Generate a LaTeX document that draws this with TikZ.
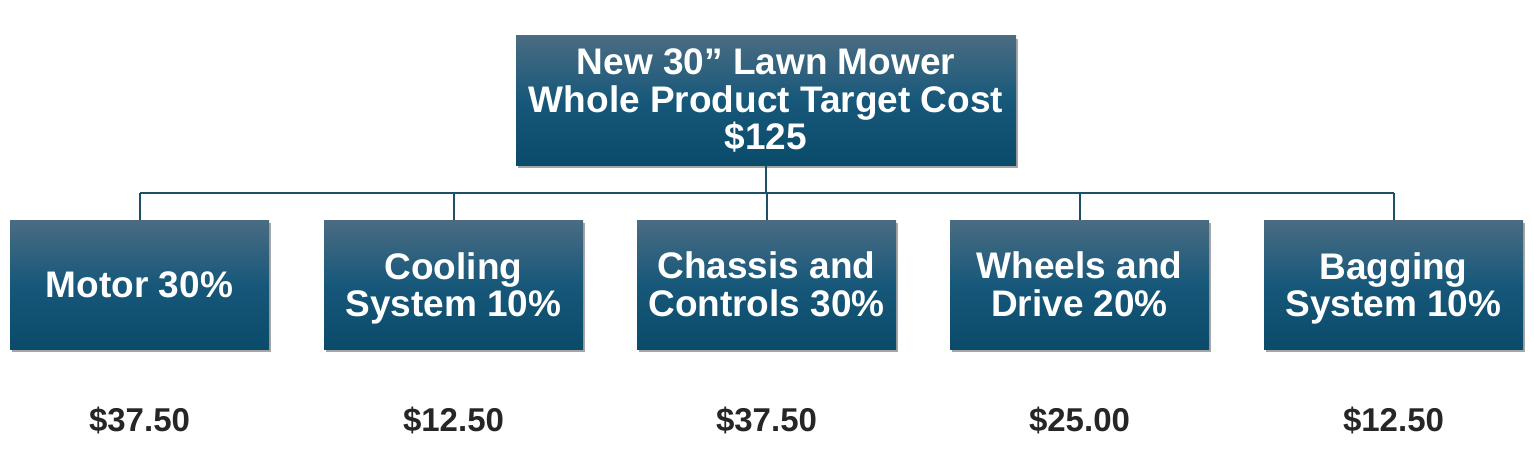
\documentclass[tikz,border=0pt]{standalone}
\usepackage{fontspec}
\setmainfont{Liberation Sans}
\usetikzlibrary{shadows}
\definecolor{boxtop}{HTML}{4A6C82}
\definecolor{boxmid}{HTML}{17587A}
\definecolor{boxbot}{HTML}{0A4B6A}
\definecolor{linec}{HTML}{1D4F66}
\definecolor{pricec}{HTML}{262626}
\newcommand{\nodepth}[1]{\raisebox{0pt}[\height][0pt]{#1}}
\tikzset{
  box/.style={rectangle, top color=boxtop, bottom color=boxbot, middle color=boxmid, shading angle=0,
    text=white, font=\bfseries\fontsize{37}{37.5}\selectfont, align=center, inner sep=0pt,
    drop shadow={shadow xshift=2pt, shadow yshift=-3pt, opacity=0.35, fill=black}},
  topbox/.style={box, minimum width=500pt, minimum height=129pt},
  childbox/.style={box, minimum width=259pt, minimum height=129pt},
  price/.style={text=pricec, font=\bfseries\fontsize{33}{36}\selectfont, inner sep=0pt},
  conn/.style={draw=linec, line width=2pt}
}
\begin{document}
\begin{tikzpicture}[x=1pt, y=-1pt]
\useasboundingbox (0,0) rectangle (1534,460);
\node[topbox] (top) at (766,100.5) {New 30” Lawn Mower\\Whole Product Target Cost\\\$125};
\node[childbox] (c1) at (139.5,284.5) {Motor 30\%};
\node[childbox] (c2) at (453.5,284.5) {Cooling\\\nodepth{System 10\%}};
\node[childbox] (c3) at (766.5,284.5) {Chassis and\\Controls 30\%};
\node[childbox] (c4) at (1079.5,284.5) {Wheels and\\Drive 20\%};
\node[childbox] (c5) at (1393.5,284.5) {Bagging\\\nodepth{System 10\%}};
\node[price] (p1) at (139.5,420) {\$37.50};
\node[price] (p2) at (453.5,420) {\$12.50};
\node[price] (p3) at (766.5,420) {\$37.50};
\node[price] (p4) at (1079.5,420) {\$25.00};
\node[price] (p5) at (1393.5,420) {\$12.50};
\coordinate (busL) at (139.5,193);
\coordinate (busR) at (1393.5,193);
\draw[conn] (busL) -- (busR);
\draw[conn] (top.south) -- (top.south |- busL);
\foreach \c in {c1,c2,c3,c4,c5} {\draw[conn] (\c.north) -- (\c.north |- busL);}
\end{tikzpicture}
\end{document}
